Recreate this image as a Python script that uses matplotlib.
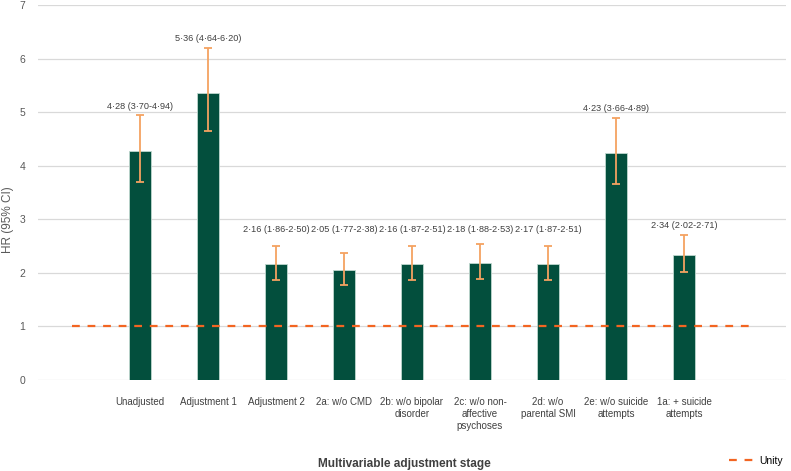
import matplotlib
matplotlib.use("Agg")
import matplotlib.pyplot as plt
import numpy as np
from matplotlib.lines import Line2D

plt.rcParams['font.family'] = ['Liberation Sans', 'DejaVu Sans']

categories = ["Unadjusted", "Adjustment 1", "Adjustment 2", "2a: w/o CMD",
              "2b: w/o bipolar\ndisorder", "2c: w/o non-\naffective\npsychoses",
              "2d: w/o\nparental SMI", "2e: w/o suicide\nattempts", "1a: + suicide\nattempts"]
hr = [4.28, 5.36, 2.16, 2.05, 2.16, 2.18, 2.17, 4.23, 2.34]
lower = [3.70, 4.64, 1.86, 1.77, 1.87, 1.88, 1.87, 3.66, 2.02]
upper = [4.94, 6.20, 2.50, 2.38, 2.51, 2.53, 2.51, 4.89, 2.71]
labels = ["4·28 (3·70-4·94)", "5·36 (4·64-6·20)", "2·16 (1·86-2·50)", "2·05 (1·77-2·38)",
          "2·16 (1·87-2·51)", "2·18 (1·88-2·53)", "2·17 (1·87-2·51)", "4·23 (3·66-4·89)",
          "2·34 (2·02-2·71)"]
unity = 1.0
yticks = [0, 1, 2, 3, 4, 5, 6, 7]

W, H = 791, 471
fig = plt.figure(figsize=(W / 100, H / 100), dpi=100)
ax = fig.add_axes([38 / W, 1 - 380 / H, (786 - 38) / W, (380 - 5) / H])

x = np.arange(1, len(categories) + 1)
bar_color = "#034F3D"
ax.bar(x, hr, width=0.32, color=bar_color, edgecolor="#BFD8CF", linewidth=0.6, zorder=3)
yerr = [np.array(hr) - np.array(lower), np.array(upper) - np.array(hr)]
ax.errorbar(x, hr, yerr=yerr, fmt="none", ecolor="#F4A261", elinewidth=1.3,
            capsize=3, capthick=1.3, zorder=4)

for xi, up, lab in zip(x, upper, labels):
    ax.text(xi, max(up + 0.17, 2.81), lab, ha="center", va="center",
            fontsize=6.6, color="#404040")

ux = np.arange(0, len(categories) + 2)
ax.plot(ux, [unity] * len(ux), linestyle=(0, (3.5, 3.5)), color="#F26522",
        linewidth=1.6, zorder=5)

ax.set_xlim(-0.5, len(categories) + 1.5)
ax.set_ylim(0, 7)
ax.set_yticks(yticks)
ax.set_yticklabels([str(t) for t in yticks], fontsize=7.5, color="#595959")
ax.set_xticks(x)
ax.set_xticklabels(categories, fontsize=7, color="#404040", linespacing=1.3, va="top")
ax.tick_params(axis="both", length=0)
ax.tick_params(axis="x", pad=12)
ax.tick_params(axis="y", pad=9)
ax.grid(axis="y", color="#D9D9D9", linewidth=0.9, zorder=0)
for s in ax.spines.values():
    s.set_visible(False)

fig.text(8 / W, 1 - 220 / H, "HR (95% CI)", rotation=90, ha="center", va="center",
         fontsize=8.5, color="#595959")
fig.text(404 / W, 1 - 464 / H, "Multivariable adjustment stage", ha="center", va="center",
         fontsize=8.5, fontweight="bold", color="#404040")

leg_handle = Line2D([0], [0], linestyle=(0, (3.5, 3.5)), color="#F26522", linewidth=1.6)
fig.legend([leg_handle], ["Unity"], loc="center right", bbox_to_anchor=(783 / W, 1 - 461 / H),
           frameon=False, fontsize=7.5, handlelength=2.6, handletextpad=0.3,
           borderaxespad=0, borderpad=0)

fig.savefig("out.png", dpi=100)
